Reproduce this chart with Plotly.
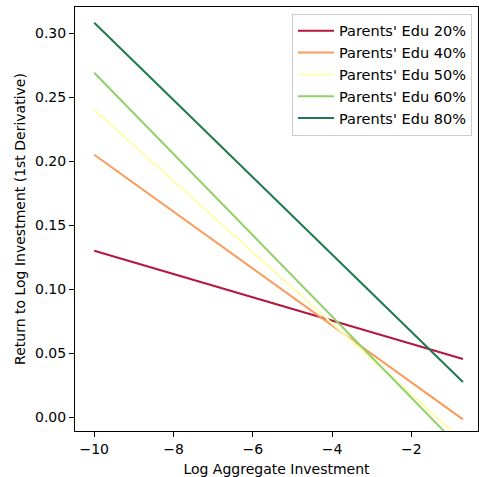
import plotly.graph_objects as go

# Log aggregate investment at the two ends of each fitted line
x_ends = [-10.0, -0.7]

# Return to log investment (1st derivative) at each end
labels = ["Parents' Edu 20%", "Parents' Edu 40%", "Parents' Edu 50%",
          "Parents' Edu 60%", "Parents' Edu 80%"]
edu20 = [0.130, 0.0455]
edu40 = [0.205, -0.0016]
edu50 = [0.240, -0.0185]
edu60 = [0.269, -0.026]
edu80 = [0.308, 0.0275]
series = [edu20, edu40, edu50, edu60, edu80]
colors = ["#b5173f", "#fa9b5b", "#fefeb0", "#92d06a", "#1d7a4c"]

y_ticks = [0.00, 0.05, 0.10, 0.15, 0.20, 0.25, 0.30]
x_ticks = [-10, -8, -6, -4, -2]

fig = go.Figure()
for name, ys, c in zip(labels, series, colors):
    fig.add_trace(go.Scatter(x=x_ends, y=ys, mode="lines", name=name,
                             line=dict(color=c, width=2)))

axis_common = dict(showline=True, linecolor="black", linewidth=1, mirror=True,
                   ticks="outside", ticklen=5, tickwidth=1, tickcolor="black",
                   showgrid=False, zeroline=False,
                   tickfont=dict(size=14, color="black"))

fig.update_layout(
    width=479, height=477,
    margin=dict(l=75, r=1, t=7, b=46),
    paper_bgcolor="white", plot_bgcolor="white",
    font=dict(family="DejaVu Sans", size=14, color="black"),
    xaxis=dict(range=[-10.485, -0.32], tickvals=x_ticks,
               title=dict(text="Log Aggregate Investment", standoff=8,
                          font=dict(size=14)),
               **axis_common),
    yaxis=dict(range=[-0.0107, 0.3203], tickvals=y_ticks, tickformat=".2f",
               title=dict(text="Return to Log Investment (1st Derivative)",
                          standoff=6, font=dict(size=14)),
               **axis_common),
    legend=dict(x=0.985, y=0.984, xanchor="right", yanchor="top",
                bgcolor="rgba(255,255,255,0.8)", bordercolor="#cccccc",
                borderwidth=1, font=dict(size=14.5), tracegroupgap=0,
                itemwidth=36),
    showlegend=True,
)

fig.write_html("out.html")
